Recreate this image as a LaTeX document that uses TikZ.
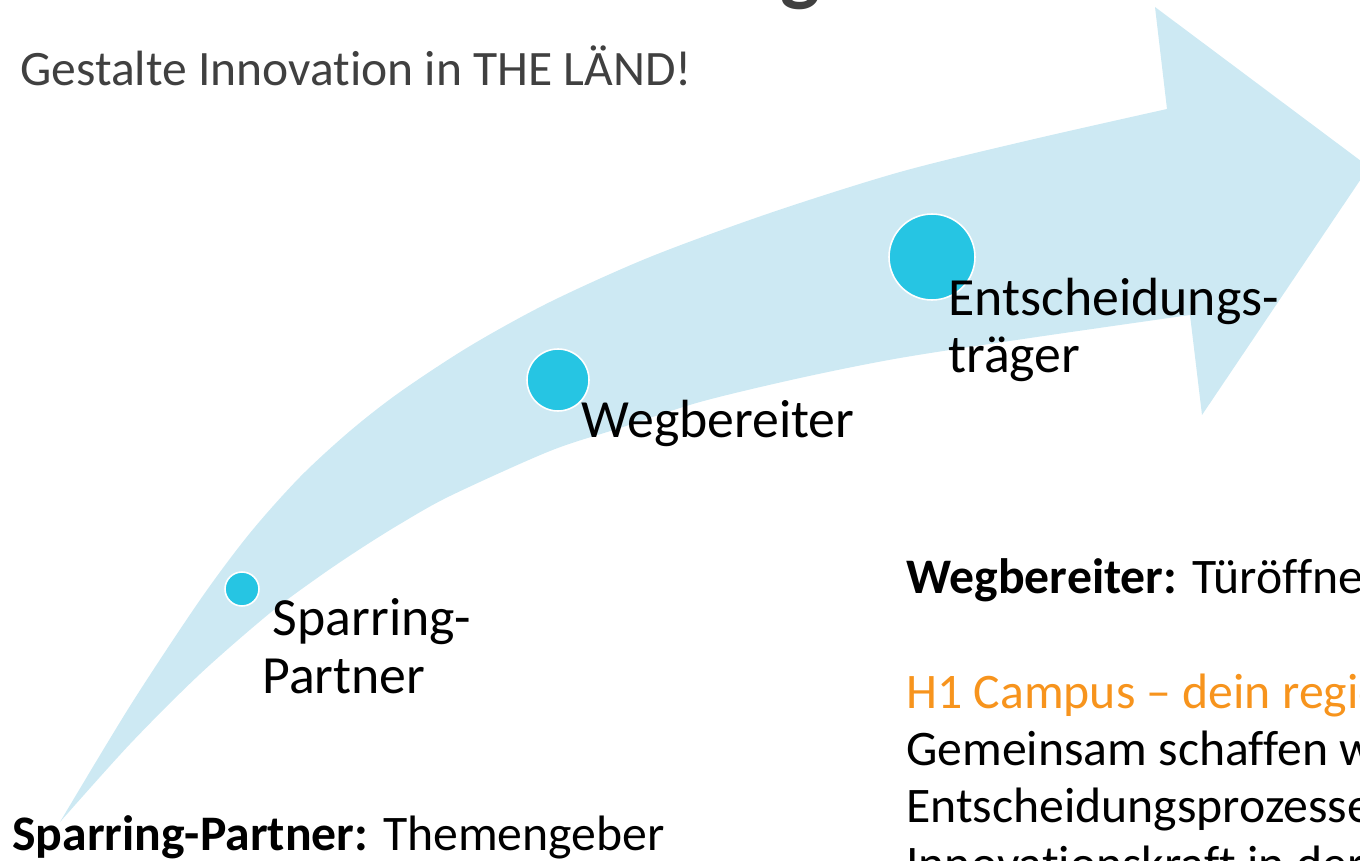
\documentclass[tikz,border=0pt]{standalone}
\usepackage{fontspec}
\setmainfont{Carlito}[Ligatures=NoCommon]
\usepackage{xcolor}
\usepackage{tikz}

\definecolor{arrowblue}{RGB}{205,233,243}
\definecolor{dotblue}{RGB}{38,197,227}
\definecolor{campusorange}{RGB}{247,148,29}
\definecolor{subgray}{RGB}{64,64,64}

\begin{document}
\begin{tikzpicture}[x=0.02cm,y=-0.02cm,
	dot/.style={circle,fill=dotblue,draw=white,line width=0.9pt,inner sep=0pt},
	steplabel/.style={anchor=base west,inner sep=0pt,align=left,font=\fontsize{30.6}{32.9}\selectfont},
	bodytext/.style={anchor=base west,inner sep=0pt,align=left,font=\fontsize{28.3}{32.6}\selectfont}]
		\useasboundingbox (0,0) rectangle (1360,861);
		\clip (0,0) rectangle (1360,861);
		
		\node[anchor=base,inner sep=0pt,font=\fontsize{48}{48}\selectfont\bfseries,text=subgray] (title) at (800,-4) {g};
		\node[anchor=base west,inner sep=0pt,font=\fontsize{28.2}{30}\selectfont,text=subgray] (subtitle) at (20,86) {Gestalte Innovation in THE LÄND!};
		
		% curved arrow
		\fill[arrowblue] plot[smooth] coordinates {(60,822) (130,706) (200,600) (250,533) (300,477) (350,431) (400,392) (470,346) (550,302) (650,257) (770,213) (900,172) (1030,140) (1167,109)}
			-- (1155,7) -- (1369,167) -- (1202,415) -- (1190,315)
			-- plot[smooth] coordinates {(1190,315) (1030,338) (900,358) (800,378) (700,402) (620,428) (550,451) (450,496) (400,524) (360,549) (320,576) (270,613) (200,674) (130,744) (60,822)} -- cycle;
		
		\node[dot,minimum size=0.68cm] (sparring) at (242,589) {};
		\node[dot,minimum size=1.24cm] (weg) at (558,380) {};
		\node[dot,minimum size=1.72cm] (entscheid) at (932,257) {};
		
		% base anchor sits on the last line
		\node[steplabel] (sparringlabel) at (262,693) {\hspace*{6pt}Sparring-\\Partner};
		\node[steplabel] (weglabel) at (581,438) {Wegbereiter};
		\node[steplabel] (entscheidlabel) at (948,373) {Entscheidungs-\\träger};
		
		\node[bodytext] (sparringtext) at (12,850) {\textbf{Sparring-Partner:} Themengeber};
		\node[bodytext] (wegtext) at (906,880) {\textbf{Wegbereiter:} Türöffne\\[32.6pt]
			\textcolor{campusorange}{H1 Campus – dein regio}\\
			Gemeinsam schaffen w\\
			Entscheidungsprozesse\\
			Innovationskraft in der};
		
\end{tikzpicture}
\end{document}
